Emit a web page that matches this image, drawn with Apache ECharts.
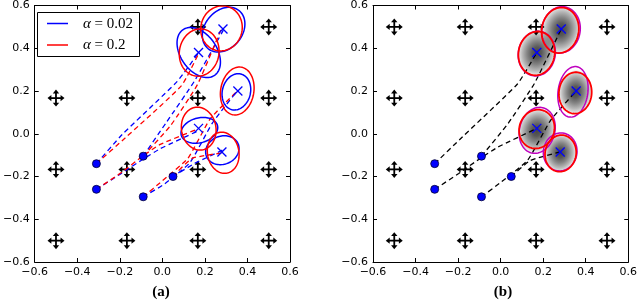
<!DOCTYPE html>
<html><head><meta charset="utf-8">
<script src="https://cdn.jsdelivr.net/npm/echarts@6/dist/echarts.min.js"></script>
<style>html,body{margin:0;padding:0;background:#fff}#c{width:640px;height:305px}</style>
</head><body><div id="c"></div>
<script>
// ---------- data ----------
const gridPos = [-0.5, -0.1667, 0.1667, 0.5];           // arrow-marker positions (x and y)
const startPts = [[-0.31,-0.14],[-0.09,-0.105],[-0.31,-0.26],[0.05,-0.2],[-0.09,-0.295]];
const endPts   = [[0.17,0.38],[0.285,0.49],[0.355,0.2],[0.17,0.025],[0.28,-0.085]];

// ellipses: [cx, cy, semiA, semiB, angleDeg]
const blueEllA = [[0.171,0.38,0.13,0.085,125],[0.288,0.487,0.115,0.088,50],[0.348,0.196,0.066,0.086,-15],[0.174,0.016,0.088,0.058,15],[0.282,-0.077,0.08,0.066,20]];
const redEllA  = [[0.173,0.38,0.093,0.111,-10],[0.278,0.493,0.097,0.106,-15],[0.352,0.2,0.078,0.113,-10],[0.171,0.024,0.081,0.101,10],[0.286,-0.089,0.074,0.097,10]];
const redEllB  = [[0.169,0.376,0.085,0.103,-10],[0.28,0.484,0.087,0.107,-10],[0.351,0.191,0.077,0.097,-5],[0.17,0.022,0.082,0.092,-20],[0.282,-0.092,0.073,0.086,-10]];
const magEllB  = [[0.17,0.375,0.087,0.105,-10],[0.284,0.486,0.09,0.109,-10],[0.34,0.196,0.07,0.119,-8],[0.172,0.016,0.083,0.109,-15],[0.28,-0.085,0.079,0.089,-10]];
const blobsB   = [[0.17,0.378,0.09,0.11,-10],[0.284,0.487,0.092,0.113,-10],[0.352,0.195,0.08,0.104,-5],[0.17,0.015,0.088,0.105,-15],[0.281,-0.09,0.077,0.092,-10]];

// paths (a): blue (alpha=0.02) and red (alpha=0.2)
const bluePathsA = [
  [[-0.31,-0.14],[-0.19,-0.005],[0.07,0.245],[0.171,0.38]],
  [[-0.09,-0.105],[0.02,0.055],[0.15,0.245],[0.288,0.487]],
  [[-0.31,-0.26],[-0.2,-0.19],[-0.1,-0.125],[-0.01,-0.07],[0.174,0.016]],
  [[-0.09,-0.295],[0.01,-0.235],[0.13,-0.135],[0.235,0.05],[0.348,0.196]],
  [[0.05,-0.2],[0.15,-0.14],[0.282,-0.077]]
];
const redPathsA = [
  [[-0.31,-0.14],[-0.175,-0.02],[0.09,0.225],[0.173,0.38]],
  [[-0.09,-0.105],[0.04,0.04],[0.165,0.23],[0.278,0.493]],
  [[-0.31,-0.26],[-0.19,-0.18],[-0.1,-0.11],[-0.01,-0.05],[0.171,0.024]],
  [[-0.09,-0.295],[0.0,-0.22],[0.12,-0.115],[0.225,0.07],[0.352,0.2]],
  [[0.05,-0.2],[0.14,-0.115],[0.286,-0.089]]
];
// paths (b)
const pathsB = [
  [[-0.31,-0.14],[-0.18,-0.015],[0.08,0.234],[0.17,0.38]],
  [[-0.09,-0.105],[0.035,0.048],[0.158,0.234],[0.285,0.49]],
  [[-0.31,-0.26],[-0.197,-0.186],[-0.1,-0.118],[-0.012,-0.062],[0.17,0.025]],
  [[-0.09,-0.295],[0.004,-0.225],[0.127,-0.124],[0.235,0.063],[0.355,0.2]],
  [[0.05,-0.2],[0.14,-0.125],[0.28,-0.085]]
];
const legendLabels = ['0.02', '0.2'];
const captions = ['(a)', '(b)'];

// ---------- helpers ----------
const BLUE = '#0000ff', RED = '#ff0000', MAG = '#bf00bf';
const arrowData = [];
gridPos.forEach(x => gridPos.forEach(y => arrowData.push([x, y])));

function fmt(v){ if (Math.abs(v) < 1e-9) return '0.0'; return v.toFixed(1).replace('-', '\u2212'); }

function xAx(gi, pos, lab){
  return {type:'value', gridIndex:gi, position:pos, min:-0.6, max:0.6, interval:0.2,
    axisLine:{show:true, onZero:false, lineStyle:{color:'#000', width:1}},
    axisTick:{show:true, inside:true, length:4, lineStyle:{color:'#000', width:1}},
    splitLine:{show:false},
    axisLabel:{show:lab, formatter:fmt, color:'#000', fontFamily:'DejaVu Sans', fontSize:11, margin:5, showMinLabel:true, showMaxLabel:true}};
}

function arrowItem(params, api){
  const c = api.coord([api.value(0), api.value(1)]);
  const L = 8.5, B = 4.6, W = 3.2, S = 5.5;
  const ch = [
    {type:'line', shape:{x1:c[0]-S, y1:c[1], x2:c[0]+S, y2:c[1]}, style:{stroke:'#000', lineWidth:1.8}},
    {type:'line', shape:{x1:c[0], y1:c[1]-S, x2:c[0], y2:c[1]+S}, style:{stroke:'#000', lineWidth:1.8}},
    {type:'polygon', shape:{points:[[c[0]+L,c[1]],[c[0]+B,c[1]-W],[c[0]+B,c[1]+W]]}, style:{fill:'#000'}},
    {type:'polygon', shape:{points:[[c[0]-L,c[1]],[c[0]-B,c[1]-W],[c[0]-B,c[1]+W]]}, style:{fill:'#000'}},
    {type:'polygon', shape:{points:[[c[0],c[1]-L],[c[0]-W,c[1]-B],[c[0]+W,c[1]-B]]}, style:{fill:'#000'}},
    {type:'polygon', shape:{points:[[c[0],c[1]+L],[c[0]-W,c[1]+B],[c[0]+W,c[1]+B]]}, style:{fill:'#000'}}
  ];
  return {type:'group', children:ch};
}

function ellipseItem(color, lw){
  return function(params, api){
    const cx = api.value(0), cy = api.value(1), a = api.value(2), b = api.value(3), t = api.value(4)*Math.PI/180;
    const pts = [];
    for (let k = 0; k < 90; k++){
      const f = k/90*2*Math.PI;
      const dx = a*Math.cos(f)*Math.cos(t) - b*Math.sin(f)*Math.sin(t);
      const dy = a*Math.cos(f)*Math.sin(t) + b*Math.sin(f)*Math.cos(t);
      pts.push(api.coord([cx+dx, cy+dy]));
    }
    return {type:'polygon', shape:{points:pts}, style:{fill:'none', stroke:color, lineWidth:lw}};
  };
}

const blobStops = [[0,0.76],[0.25,0.68],[0.5,0.5],[0.75,0.29],[0.92,0.12],[1,0]].map(s => ({offset:s[0], color:'rgba(10,10,10,' + s[1] + ')'}));
function blobItem(params, api){
  const c = api.coord([api.value(0), api.value(1)]);
  const ax = api.size([api.value(2), 0])[0];
  const by = api.size([0, api.value(3)])[1];
  const t = api.value(4)*Math.PI/180;
  return {type:'circle', x:c[0], y:c[1], rotation:t, scaleX:ax/by, scaleY:1,
    shape:{cx:0, cy:0, r:by},
    style:{fill:new echarts.graphic.RadialGradient(0.5,0.5,0.5,blobStops)}};
}

function xItem(params, api){
  const c = api.coord([api.value(0), api.value(1)]);
  const h = 4.5;
  return {type:'group', children:[
    {type:'line', shape:{x1:c[0]-h,y1:c[1]-h,x2:c[0]+h,y2:c[1]+h}, style:{stroke:BLUE, lineWidth:1.3}},
    {type:'line', shape:{x1:c[0]-h,y1:c[1]+h,x2:c[0]+h,y2:c[1]-h}, style:{stroke:BLUE, lineWidth:1.3}}
  ]};
}

function panel(xi, yi){ return {xAxisIndex:xi, yAxisIndex:yi}; }

const series = [];
[[0,0],[2,2]].forEach(([xi, yi]) => {
  series.push(Object.assign({type:'custom', renderItem:arrowItem, data:arrowData, encode:{x:0,y:1}, z:1, silent:true}, panel(xi, yi)));
});
// blobs (b)
series.push(Object.assign({type:'custom', renderItem:blobItem, data:blobsB, encode:{x:0,y:1}, z:2, clip:true}, panel(2,2)));
// dashed paths
function pathSeries(path, color, xi, yi){
  return Object.assign({type:'line', data:path, symbol:'none', smooth:0.15, z:3,
    lineStyle:{color:color, width:1.3, type:[5,3.5]}}, panel(xi, yi));
}
bluePathsA.forEach(p => series.push(pathSeries(p, BLUE, 0, 0)));
redPathsA.forEach(p => series.push(pathSeries(p, RED, 0, 0)));
pathsB.forEach(p => series.push(pathSeries(p, '#000', 2, 2)));
// ellipses
series.push(Object.assign({type:'custom', renderItem:ellipseItem(BLUE,1.5), data:blueEllA, encode:{x:0,y:1}, z:4, clip:true}, panel(0,0)));
series.push(Object.assign({type:'custom', renderItem:ellipseItem(RED,1.5), data:redEllA, encode:{x:0,y:1}, z:4, clip:true}, panel(0,0)));
series.push(Object.assign({type:'custom', renderItem:ellipseItem(MAG,1.5), data:magEllB, encode:{x:0,y:1}, z:4, clip:true}, panel(2,2)));
series.push(Object.assign({type:'custom', renderItem:ellipseItem(RED,1.8), data:redEllB, encode:{x:0,y:1}, z:4, clip:true}, panel(2,2)));
// start dots and end markers
[[0,0],[2,2]].forEach(([xi, yi]) => {
  series.push(Object.assign({type:'scatter', data:startPts, symbolSize:8, z:5,
    itemStyle:{color:BLUE, borderColor:'#000030', borderWidth:0.8, opacity:1}}, panel(xi, yi)));
  series.push(Object.assign({type:'custom', renderItem:xItem, data:endPts, encode:{x:0,y:1}, z:6}, panel(xi, yi)));
});

const serif = 'Liberation Serif';
const option = {
  animation:false,
  backgroundColor:'#fff',
  grid:[
    {left:32, top:5, width:258, height:257},
    {left:373, top:5, width:259, height:257}
  ],
  xAxis:[xAx(0,'bottom',true), xAx(0,'top',false), xAx(1,'bottom',true), xAx(1,'top',false)],
  yAxis:[xAx(0,'left',true), xAx(0,'right',false), xAx(1,'left',true), xAx(1,'right',false)],
  series:series,
  graphic:[
    {type:'rect', z:100, shape:{x:37.5, y:12.5, width:102, height:44}, style:{fill:'#fff', stroke:'#000', lineWidth:1}},
    {type:'line', z:101, shape:{x1:47, y1:23.5, x2:68, y2:23.5}, style:{stroke:BLUE, lineWidth:1.5}},
    {type:'line', z:101, shape:{x1:47, y1:45, x2:68, y2:45}, style:{stroke:RED, lineWidth:1.5}},
    {type:'text', z:101, style:{x:83, y:24, text:'{i|\u03b1} = ' + legendLabels[0], font:'15px "Liberation Serif"', fill:'#000', verticalAlign:'middle',
      rich:{i:{fontStyle:'italic', fontFamily:serif, fontSize:15}}}},
    {type:'text', z:101, style:{x:83, y:45, text:'{i|\u03b1} = ' + legendLabels[1], font:'15px "Liberation Serif"', fill:'#000', verticalAlign:'middle',
      rich:{i:{fontStyle:'italic', fontFamily:serif, fontSize:15}}}},
    {type:'text', style:{x:161, y:292, text:captions[0], font:'bold 15px "Liberation Serif"', fill:'#000', align:'center', verticalAlign:'middle'}},
    {type:'text', style:{x:503, y:292, text:captions[1], font:'bold 15px "Liberation Serif"', fill:'#000', align:'center', verticalAlign:'middle'}}
  ]
};
const chart = echarts.init(document.getElementById('c'), null, {renderer:'canvas'});
chart.setOption(option);
</script></body></html>
